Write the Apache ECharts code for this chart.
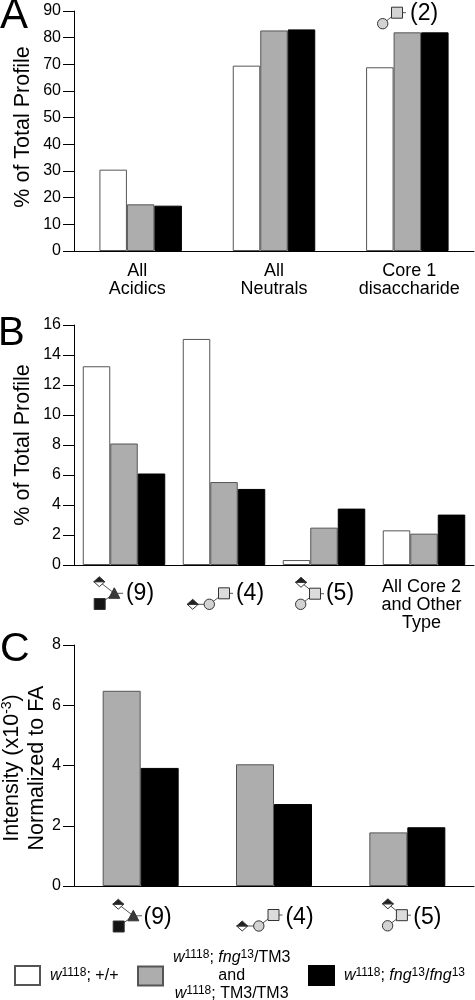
<!DOCTYPE html>
<html><head><meta charset="utf-8">
<style>html,body{margin:0;padding:0;background:#fff}#c{width:475px;height:1000px}</style>
<script src="https://cdn.jsdelivr.net/npm/echarts@6/dist/echarts.min.js"></script>
</head><body><div id="c"></div>
<script>
const FONT = 'Liberation Sans';
const INK = '#000';
const S1 = 'w1118; +/+', S2 = 'w1118; fng13/TM3 and w1118; TM3/TM3', S3 = 'w1118; fng13/fng13';

const catsA = ['All\nAcidics', 'All\nNeutrals', 'Core 1\ndisaccharide'];
const whiteA = [30.5, 69.5, 68.9];
const greyA = [17.5, 82.7, 82];
const blackA = [17, 83.1, 82];

const catsB = ['(9)', '(4)', '(5)', 'All Core 2\nand Other\nType'];
const whiteB = [13.25, 15.07, 0.33, 2.31];
const greyB = [8.1, 5.53, 2.49, 2.09];
const blackB = [6.1, 5.07, 3.76, 3.36];

const catsC = ['(9)', '(4)', '(5)'];
const greyC = [6.48, 4.04, 1.78];
const blackC = [3.92, 2.72, 1.95];

const chart = echarts.init(document.getElementById('c'), null, {renderer: 'canvas'});

const styles = {
  [S1]: {color: '#fff', borderColor: '#555', borderWidth: 1},
  [S2]: {color: '#adadad', borderColor: '#555', borderWidth: 1},
  [S3]: {color: '#000', borderColor: '#000', borderWidth: 1}
};
function bar(name, data, idx, w) {
  return {type: 'bar', name, data, xAxisIndex: idx, yAxisIndex: idx, barWidth: w, barGap: 0,
    itemStyle: styles[name], animation: false, silent: true};
}
function grid(top, height) {
  return {left: 74, top, width: 400, height, containLabel: false, outerBoundsMode: 'none'};
}
function yAxis(idx, max, interval, name, gap, nameExtra) {
  return {type: 'value', gridIndex: idx, min: 0, max, interval, splitLine: {show: false},
    axisLine: {show: true, lineStyle: {color: INK, width: 1}},
    axisTick: {show: true, length: 11, lineStyle: {color: INK, width: 1}},
    axisLabel: {fontFamily: FONT, fontSize: 16, color: INK, margin: 13},
    name, nameLocation: 'middle', nameRotate: 90, nameGap: gap, nameMoveOverlap: false,
    nameTextStyle: Object.assign({fontFamily: FONT, fontSize: 21.5, color: INK}, nameExtra || {})};
}
const labelRich = {
  a: {fontFamily: FONT, fontSize: 18, lineHeight: 18, color: INK, padding: [0, 7, 0, 0]},
  c: {fontFamily: FONT, fontSize: 18, lineHeight: 18, color: INK, padding: [0, 0, 0, 4]},
  n: {fontFamily: FONT, fontSize: 18, lineHeight: 18, color: INK}
};
function xAxis(idx, data, margin, formatter, rich) {
  return {type: 'category', gridIndex: idx, data, axisLine: {lineStyle: {color: INK, width: 1}},
    axisTick: {show: false},
    axisLabel: {interval: 0, margin, formatter, rich, fontFamily: FONT, fontSize: 18, color: INK, lineHeight: 18}};
}
function numRich(shift, top) {
  const r = {};
  shift.forEach((s, i) => {
    r['p' + i] = {fontFamily: FONT, fontSize: 23, lineHeight: 26, color: INK,
      padding: [top, 0, 0, 2 * s]};
  });
  return r;
}
const xFmtA = (v, i) => v.split('\n').map(l => `{${['a', 'n', 'c'][i]}|${l}}`).join('\n');
const xFmtB = (v, i) => i < 3 ? `{p${i}|${v}}` : v.split('\n').map(l => `{q|${l}}`).join('\n');
const xFmtC = (v, i) => `{p${i}|${v}}`;
const richB = Object.assign(numRich([16, 26, 16], 6), {q: {fontFamily: FONT, fontSize: 18, lineHeight: 18, color: INK, padding: [0, 5, 0, 0]}});
const richC = numRich([17, 25.5, 20], 5);

const legendRich = {
  i: {fontFamily: FONT, fontSize: 16, fontStyle: 'italic', lineHeight: 18, color: INK, align: 'center', verticalAlign: 'middle'},
  n: {fontFamily: FONT, fontSize: 16, lineHeight: 18, color: INK, align: 'center', verticalAlign: 'middle'},
  s: {fontFamily: FONT, fontSize: 12, lineHeight: 12, color: INK, align: 'center', verticalAlign: 'top'}
};
function legend(name, left, top, text) {
  return {data: [name], left, top, padding: 0, orient: 'horizontal', icon: 'rect', itemWidth: 25, itemHeight: 19,
    selectedMode: false, formatter: () => text,
    textStyle: {rich: legendRich, fontFamily: FONT, fontSize: 16, color: INK, padding: [0, 0, 0, 5]}};
}

/* ---- small glycan glyphs next to category labels ---- */
const gs = [];
const EDGE = {stroke: '#333', lineWidth: 1};
function link(x1, y1, x2, y2) { gs.push({type: 'line', shape: {x1, y1, x2, y2}, style: {stroke: '#555', lineWidth: 1}, silent: true}); }
function sq(x, y, fill) { gs.push({type: 'rect', shape: {x: x - 5.5, y: y - 5.5, width: 11, height: 11}, style: {fill, ...EDGE}, silent: true}); }
function circ(x, y) { gs.push({type: 'circle', shape: {cx: x, cy: y, r: 5.2}, style: {fill: '#d2d2d2', ...EDGE}, silent: true}); }
function diam(x, y) {
  gs.push({type: 'polygon', shape: {points: [[x - 5.5, y], [x, y + 5], [x + 5.5, y]]}, style: {fill: '#fff', ...EDGE}, silent: true});
  gs.push({type: 'polygon', shape: {points: [[x - 5.5, y], [x, y - 5], [x + 5.5, y]]}, style: {fill: '#222', ...EDGE}, silent: true});
}
function tri(x, y) { gs.push({type: 'polygon', shape: {points: [[x - 5.5, y + 5], [x, y - 5.5], [x + 5.5, y + 5]]}, style: {fill: '#3a3a3a', stroke: '#333', lineWidth: 1}, silent: true}); }
function glyph9(dx, dy) {
  link(99.3 + dx, 581.7 + dy, 114.3 + dx, 593.3 + dy);
  link(99.7 + dx, 604 + dy, 114.3 + dx, 593.3 + dy);
  link(114.3 + dx, 593.3 + dy, 123 + dx, 593.3 + dy);
  diam(99.3 + dx, 581.7 + dy); tri(114.3 + dx, 593.3 + dy); sq(99.7 + dx, 604 + dy, '#151515');
}
function glyph4(dx, dy) {
  link(192.7 + dx, 604.3 + dy, 209.3 + dx, 604.3 + dy);
  link(209.3 + dx, 604.3 + dy, 224 + dx, 593.3 + dy);
  link(224 + dx, 593.3 + dy, 233 + dx, 593.3 + dy);
  diam(192.7 + dx, 604.3 + dy); circ(209.3 + dx, 604.3 + dy); sq(224 + dx, 593.3 + dy, '#dcdcdc');
}
function glyph5(dx, dy) {
  link(301 + dx, 582.3 + dy, 315 + dx, 593.7 + dy);
  link(300.7 + dx, 604.3 + dy, 315 + dx, 593.7 + dy);
  link(315 + dx, 593.7 + dy, 324 + dx, 593.7 + dy);
  diam(301 + dx, 582.3 + dy); circ(300.7 + dx, 604.3 + dy); sq(315 + dx, 593.7 + dy, '#dcdcdc');
}
function glyph2() {
  link(382.7, 23.7, 397, 12.7); link(397, 12.7, 406, 12.7);
  circ(382.7, 23.7); sq(397, 12.7, '#d4d4d4');
}
function letter(t, x, y, size) {
  gs.push({type: 'text', x, y, silent: true, style: {text: t, font: `${size}px "${FONT}"`, fill: INK, verticalAlign: 'middle'}});
}
glyph2();
gs.push({type: 'text', x: 410, y: 13.5, silent: true, style: {text: '(2)', font: `23px "${FONT}"`, fill: INK, verticalAlign: 'middle'}});
glyph9(0, 0); glyph4(0, 0); glyph5(0, 0);
glyph9(19, 322.5); glyph4(49.5, 321.7); glyph5(86.9, 321.5);
letter('A', 0, 16, 42); letter('B', -2, 334, 40); letter('C', 0, 650, 41);

chart.setOption({
  animation: false,
  backgroundColor: '#fff',
  grid: [grid(11, 240), grid(325, 240), grid(645, 241)],
  xAxis: [xAxis(0, catsA, 11, xFmtA, labelRich), xAxis(1, catsB, 13, xFmtB, richB), xAxis(2, catsC, 16, xFmtC, richC)],
  yAxis: [
    yAxis(0, 90, 10, '% of Total Profile', 40, {padding: [0, 0, 0, 8]}),
    yAxis(1, 16, 2, '% of Total Profile', 40),
    yAxis(2, 8, 2, '{a|Intensity (x10}{s|-3}{a|)}\n{a|Normalized to FA}', 24, {
      padding: [0, 5, 0, 0],
      rich: {
        a: {fontFamily: FONT, fontSize: 21.5, lineHeight: 25, color: INK, align: 'center', verticalAlign: 'middle'},
        s: {fontFamily: FONT, fontSize: 14, lineHeight: 14, color: INK, align: 'center', verticalAlign: 'top'}
      }
    })
  ],
  legend: [
    legend(S1, 14, 965, '{i|w}{s|1118}{n|; +/+}'),
    legend(S2, 137, 949, '{i|w}{s|1118}{n|; }{i|fng}{s|13}{n|/TM3}\n{n|and}\n{i|w}{s|1118}{n|; TM3/TM3}'),
    legend(S3, 308, 965, '{i|w}{s|1118}{n|; }{i|fng}{s|13}{n|/}{i|fng}{s|13}')
  ],
  series: [
    bar(S1, whiteA, 0, 27.5), bar(S2, greyA, 0, 27.5), bar(S3, blackA, 0, 27.5),
    bar(S1, whiteB, 1, 27.5), bar(S2, greyB, 1, 27.5), bar(S3, blackB, 1, 27.5),
    bar(S2, greyC, 2, 38), bar(S3, blackC, 2, 38)
  ],
  graphic: {elements: gs}
});
</script></body></html>
